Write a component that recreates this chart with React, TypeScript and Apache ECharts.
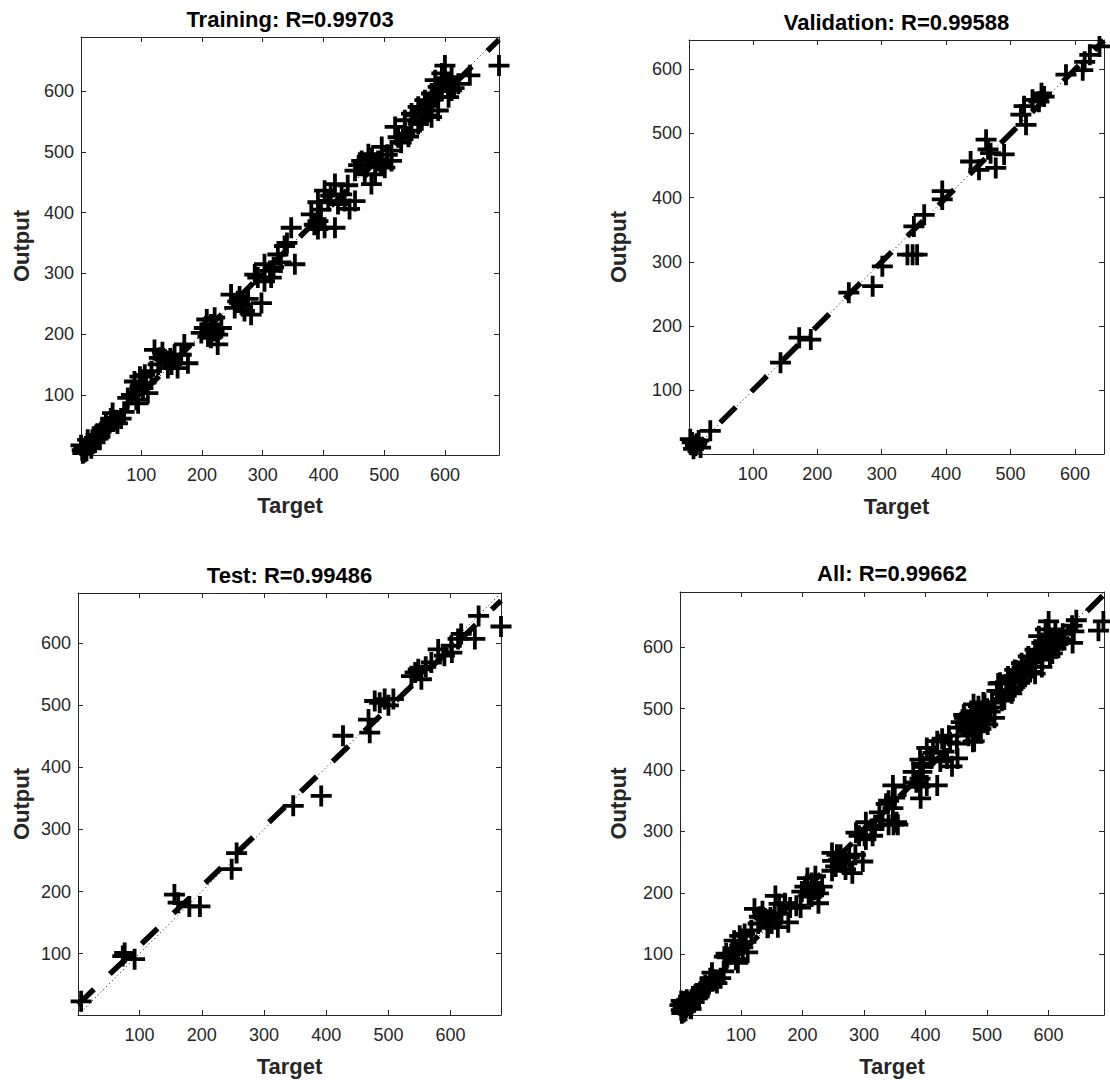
import React, { useEffect, useRef } from "react";
import * as echarts from "echarts";

// ---------- DATA ----------
const tickValues = [100, 200, 300, 400, 500, 600];

const panelTitles = [
  "Training: R=0.99703",
  "Validation: R=0.99588",
  "Test: R=0.99486",
  "All: R=0.99662",
];

const axisMin = [1, 1, 1, 1];
const axisMax = [689, 645, 681, 690];

// fitted line Output ~= slope * Target + intercept
const fitSlope = [0.99, 0.998, 0.957, 0.99];
const fitIntercept = [2.5, 0.5, 17, 3];

// [Target, Output]
const trainingPoints: [number, number][] = [
  [3, 9], [6, 12], [9, 15], [1, 17], [15, 20], [20, 26], [12, 26], [26, 34], [29, 28], [34, 39],
  [40, 42], [42, 50], [50, 61], [53, 70], [61, 53], [67, 61], [18, 12], [7, 6], [4, 4], [10, 8],
  [24, 22], [32, 31], [46, 48], [57, 58], [72, 72], [36, 45],
  [78, 95], [84, 100], [89, 122], [95, 103], [95, 86], [100, 117], [103, 111], [106, 133], [111, 103],
  [92, 92], [98, 130], [108, 120],
  [117, 139], [122, 174], [128, 150], [130, 161], [139, 158], [144, 144], [150, 150], [155, 166],
  [160, 144], [166, 166], [171, 183], [177, 152], [135, 170], [148, 160],
  [199, 202], [204, 210], [210, 196], [215, 216], [215, 194], [221, 227], [226, 199], [226, 183],
  [232, 210], [208, 224], [220, 205],
  [248, 265], [254, 243], [259, 254], [265, 249], [270, 238], [281, 232], [298, 251], [262, 262], [276, 258],
  [287, 298], [292, 293], [303, 315], [303, 287], [312, 304], [314, 293], [325, 331], [330, 318],
  [336, 345], [347, 375], [353, 315], [318, 310], [340, 350],
  [380, 397], [385, 380], [391, 386], [391, 373], [391, 417], [402, 375], [402, 436], [408, 419],
  [419, 447], [419, 375], [424, 414], [430, 430], [435, 419], [443, 406], [452, 419], [396, 405],
  [412, 428], [440, 445],
  [452, 469], [463, 485], [468, 463], [474, 496], [479, 447], [485, 463], [490, 485], [496, 508],
  [501, 474], [512, 502], [512, 485], [518, 541], [523, 524], [534, 530], [545, 535], [458, 478],
  [470, 475], [480, 490], [505, 495], [528, 515], [540, 525], [495, 480],
  [534, 552], [545, 563], [556, 574], [556, 546], [562, 552], [567, 585], [573, 579], [578, 596],
  [578, 557], [584, 618], [589, 607], [589, 568], [595, 629], [600, 618], [600, 642], [606, 590],
  [611, 623], [611, 601], [622, 612], [641, 626], [689, 642], [550, 560], [565, 570], [585, 590],
  [595, 600], [605, 610], [570, 560], [615, 605],
];

const validationPoints: [number, number][] = [
  [6, 19], [11, 14], [16, 22], [8, 9], [3, 24], [19, 11], [13, 17], [34, 37],
  [143, 143], [172, 182], [190, 179],
  [249, 252], [286, 262], [301, 293],
  [340, 311], [348, 311], [355, 311], [350, 355], [366, 373],
  [394, 410], [394, 397],
  [438, 456], [451, 443], [462, 490], [469, 469], [477, 446], [490, 467], [465, 475],
  [516, 529], [524, 513], [521, 542], [534, 552], [544, 549], [552, 557], [548, 562],
  [586, 591], [612, 598], [615, 611], [623, 622], [638, 635],
];

const testPoints: [number, number][] = [
  [6, 23], [73, 96], [76, 101], [92, 91], [156, 195], [162, 182], [180, 176], [197, 176],
  [256, 262], [248, 236], [347, 338], [392, 354], [427, 451], [468, 477], [470, 456],
  [478, 507], [486, 504], [494, 510], [508, 510], [537, 547], [543, 553], [553, 542],
  [548, 558], [569, 569], [580, 590], [590, 580], [601, 596], [612, 607], [617, 615],
  [639, 607], [645, 644], [681, 627], [602, 585], [560, 562], [500, 500],
];

const allPoints: [number, number][] = [...trainingPoints, ...validationPoints, ...testPoints];

const panelPoints = [trainingPoints, validationPoints, testPoints, allPoints];

// ---------- LAYOUT ----------
const FONT = '"Liberation Sans", Arial, Helvetica, sans-serif';
const AXIS_COLOR = "#262626";

const gridRects = [
  { left: 81, top: 37, width: 418, height: 418 },
  { left: 689, top: 40, width: 415, height: 414 },
  { left: 78, top: 593, width: 423, height: 422 },
  { left: 680, top: 592, width: 424, height: 423 },
];
const titleY = [19, 22, 575, 573];
const xNameY = [505, 506, 1066, 1066];
const yNameX = [21, 618, 21, 618];

const CROSS =
  "path://M8.6,0h3.8v8.6h8.6v3.8h-8.6v8.6h-3.8v-8.6h-8.6v-3.8h8.6z";

export default function App() {
  const ref = useRef<HTMLDivElement>(null);

  useEffect(() => {
    document.body.style.margin = "0";
    if (!ref.current) return;
    const chart = echarts.init(ref.current, undefined, { renderer: "svg" });

    const grid: any[] = [];
    const xAxis: any[] = [];
    const yAxis: any[] = [];
    const series: any[] = [];
    const graphic: any[] = [];

    for (let i = 0; i < 4; i++) {
      const r = gridRects[i];
      grid.push({ left: r.left, top: r.top, width: r.width, height: r.height, containLabel: false });
      const mn = axisMin[i];
      const mx = axisMax[i];
      const common = {
        type: "value",
        gridIndex: i,
        min: mn,
        max: mx,
        splitLine: { show: false },
        axisLine: { show: true, onZero: false, lineStyle: { color: AXIS_COLOR, width: 1 } },
        axisTick: {
          show: true,
          inside: true,
          length: 5,
          customValues: tickValues,
          lineStyle: { color: AXIS_COLOR, width: 1 },
        },
      };
      xAxis.push({
        ...common,
        position: "bottom",
        axisLabel: {
          show: true,
          customValues: tickValues,
          color: AXIS_COLOR,
          fontSize: 18,
          fontFamily: FONT,
          margin: 11,
        },
      });
      xAxis.push({ ...common, position: "top", axisLabel: { show: false } });
      yAxis.push({
        ...common,
        position: "left",
        axisLabel: {
          show: true,
          customValues: tickValues,
          color: AXIS_COLOR,
          fontSize: 18,
          fontFamily: FONT,
          margin: 7,
        },
      });
      yAxis.push({ ...common, position: "right", axisLabel: { show: false } });

      const xi = i * 2;
      const yi = i * 2;

      series.push({
        type: "line",
        xAxisIndex: xi,
        yAxisIndex: yi,
        data: [
          [mn, fitSlope[i] * mn + fitIntercept[i]],
          [mx, fitSlope[i] * mx + fitIntercept[i]],
        ],
        symbol: "none",
        lineStyle: { color: "#000", width: 5.5, type: [22, 22], cap: "butt" },
        z: 2,
        silent: true,
      });
      series.push({
        type: "line",
        xAxisIndex: xi,
        yAxisIndex: yi,
        data: [
          [mn, mn],
          [mx, mx],
        ],
        symbol: "none",
        lineStyle: { color: "#000", width: 1, type: [1, 3] },
        z: 3,
        silent: true,
      });
      series.push({
        type: "scatter",
        xAxisIndex: xi,
        yAxisIndex: yi,
        data: panelPoints[i],
        symbol: CROSS,
        symbolSize: 21,
        itemStyle: { color: "#000", opacity: 1 },
        clip: false,
        z: 4,
        silent: true,
      });

      const cx = r.left + r.width / 2;
      const cy = r.top + r.height / 2;
      graphic.push({
        type: "text",
        x: cx,
        y: titleY[i],
        style: {
          text: panelTitles[i],
          fill: "#000",
          fontSize: 22,
          fontWeight: "bold",
          fontFamily: FONT,
          align: "center",
          verticalAlign: "middle",
        },
      });
      graphic.push({
        type: "text",
        x: cx,
        y: xNameY[i],
        style: {
          text: "Target",
          fill: AXIS_COLOR,
          fontSize: 22,
          fontWeight: "bold",
          fontFamily: FONT,
          align: "center",
          verticalAlign: "middle",
        },
      });
      graphic.push({
        type: "text",
        x: yNameX[i],
        y: cy,
        rotation: Math.PI / 2,
        style: {
          text: "Output",
          fill: AXIS_COLOR,
          fontSize: 22,
          fontWeight: "bold",
          fontFamily: FONT,
          align: "center",
          verticalAlign: "middle",
        },
      });
    }

    chart.setOption({
      animation: false,
      backgroundColor: "#fff",
      grid,
      xAxis,
      yAxis,
      series,
      graphic,
    });

    return () => chart.dispose();
  }, []);

  return <div ref={ref} style={{ width: 1110, height: 1081, overflow: "hidden" }} />;
}
